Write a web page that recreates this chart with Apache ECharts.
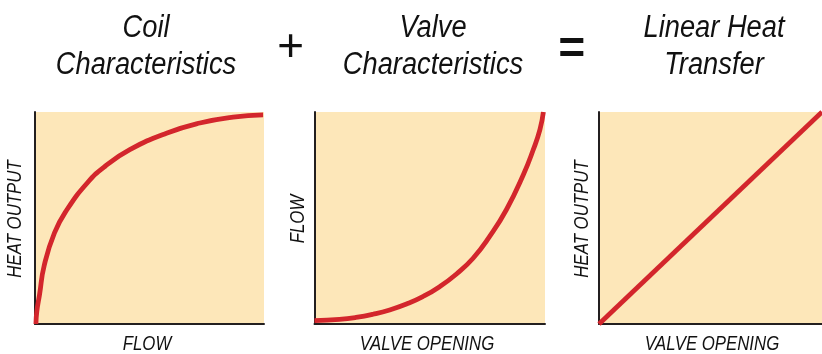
<!DOCTYPE html>
<html>
<head>
<meta charset="utf-8">
<script src="https://cdn.jsdelivr.net/npm/echarts@6/dist/echarts.min.js"></script>
<style>
html,body{margin:0;padding:0;background:#fff;}
#c{width:822px;height:354px;}
</style>
</head>
<body>
<div id="c"></div>
<script>
// ---- data (normalised 0..1) ----
const titleLines = [['Coil', 'Characteristics'], ['Valve', 'Characteristics'], ['Linear Heat', 'Transfer']];
const operators = ['+', '='];
const xNames = ['FLOW', 'VALVE OPENING', 'VALVE OPENING'];
const yNames = ['HEAT OUTPUT', 'FLOW', 'HEAT OUTPUT'];
const coilX = [0.004, 0.008, 0.02, 0.04, 0.085, 0.14, 0.228, 0.305, 0.414, 0.574, 0.72, 0.865, 0.996];
const coilY = [0.0, 0.06, 0.14, 0.275, 0.43, 0.54, 0.665, 0.743, 0.822, 0.90, 0.948, 0.976, 0.986];
const valveX = [0.0, 0.108, 0.18, 0.254, 0.326, 0.399, 0.47, 0.543, 0.616, 0.688, 0.76, 0.833, 0.906, 0.949, 0.978, 0.993];
const valveY = [0.016, 0.022, 0.031, 0.046, 0.066, 0.094, 0.129, 0.176, 0.236, 0.31, 0.413, 0.54, 0.704, 0.822, 0.917, 1.0];
const linearX = [0.0, 1.0];
const linearY = [0.0, 1.0];

const FONT = "'Liberation Sans', Arial, sans-serif";
const RED = '#d3262c';
const BG = '#fde7b9';
const AX = '#231f20';
const INK = '#111111';

const zip = (xs, ys) => xs.map((x, i) => [x, ys[i]]);
const seriesData = [zip(coilX, coilY), zip(valveX, valveY), zip(linearX, linearY)];
const smoothing = [0.5, 0.5, false];

const grids = [
  {left: 35, top: 112, width: 229, height: 212},
  {left: 314.5, top: 112, width: 230.5, height: 212},
  {left: 599, top: 112, width: 229, height: 212}
];

const option = {
  animation: false,
  grid: grids.map(g => Object.assign({show: true, backgroundColor: BG, borderWidth: 0, containLabel: false}, g)),
  xAxis: grids.map((g, i) => ({
    type: 'value', gridIndex: i, min: 0, max: 1,
    axisLine: {show: true, lineStyle: {color: AX, width: 2}},
    axisTick: {show: false}, axisLabel: {show: false}, splitLine: {show: false}
  })),
  yAxis: grids.map((g, i) => ({
    type: 'value', gridIndex: i, min: 0, max: 1,
    axisLine: {show: true, lineStyle: {color: AX, width: 2}},
    axisTick: {show: false}, axisLabel: {show: false}, splitLine: {show: false}
  })),
  series: seriesData.map((d, i) => ({
    type: 'line', xAxisIndex: i, yAxisIndex: i, data: d,
    smooth: smoothing[i], showSymbol: false, symbol: 'none',
    lineStyle: {color: RED, width: 4.8}, clip: true, z: 1
  })),
  graphic: []
};

function txt(t, x, y, size, sx, rot, weight) {
  return {
    type: 'text', x: x, y: y, rotation: rot || 0, scaleX: sx, scaleY: 1, silent: true,
    style: {text: t, fontFamily: FONT, fontStyle: 'italic', fontWeight: weight || 'normal', fontSize: size,
      fill: INK, textAlign: 'center', textVerticalAlign: 'middle'}
  };
}

// titles
const titleCx = [146, 433, 714];
titleLines.forEach((lines, i) => {
  lines.forEach((t, j) => option.graphic.push(txt(t, titleCx[i], 28 + j * 37, 31, 0.88)));
});
// operators
const opX = [290, 571];
const opY = [48, 50];
const opWeight = ['normal', 'bold'];
operators.forEach((t, i) => option.graphic.push(txt(t, opX[i], opY[i], 46, 1, 0, opWeight[i])));
// axis names
const xNameCx = [147, 427, 712];
xNames.forEach((t, i) => option.graphic.push(txt(t, xNameCx[i], 344, 21, 0.8)));
const yNameCx = [15, 298.5, 582.5];
yNames.forEach((t, i) => option.graphic.push(txt(t, yNameCx[i], 219, 21, 0.8, Math.PI / 2)));

const chart = echarts.init(document.getElementById('c'), null, {renderer: 'canvas'});
chart.setOption(option);
</script>
</body>
</html>
